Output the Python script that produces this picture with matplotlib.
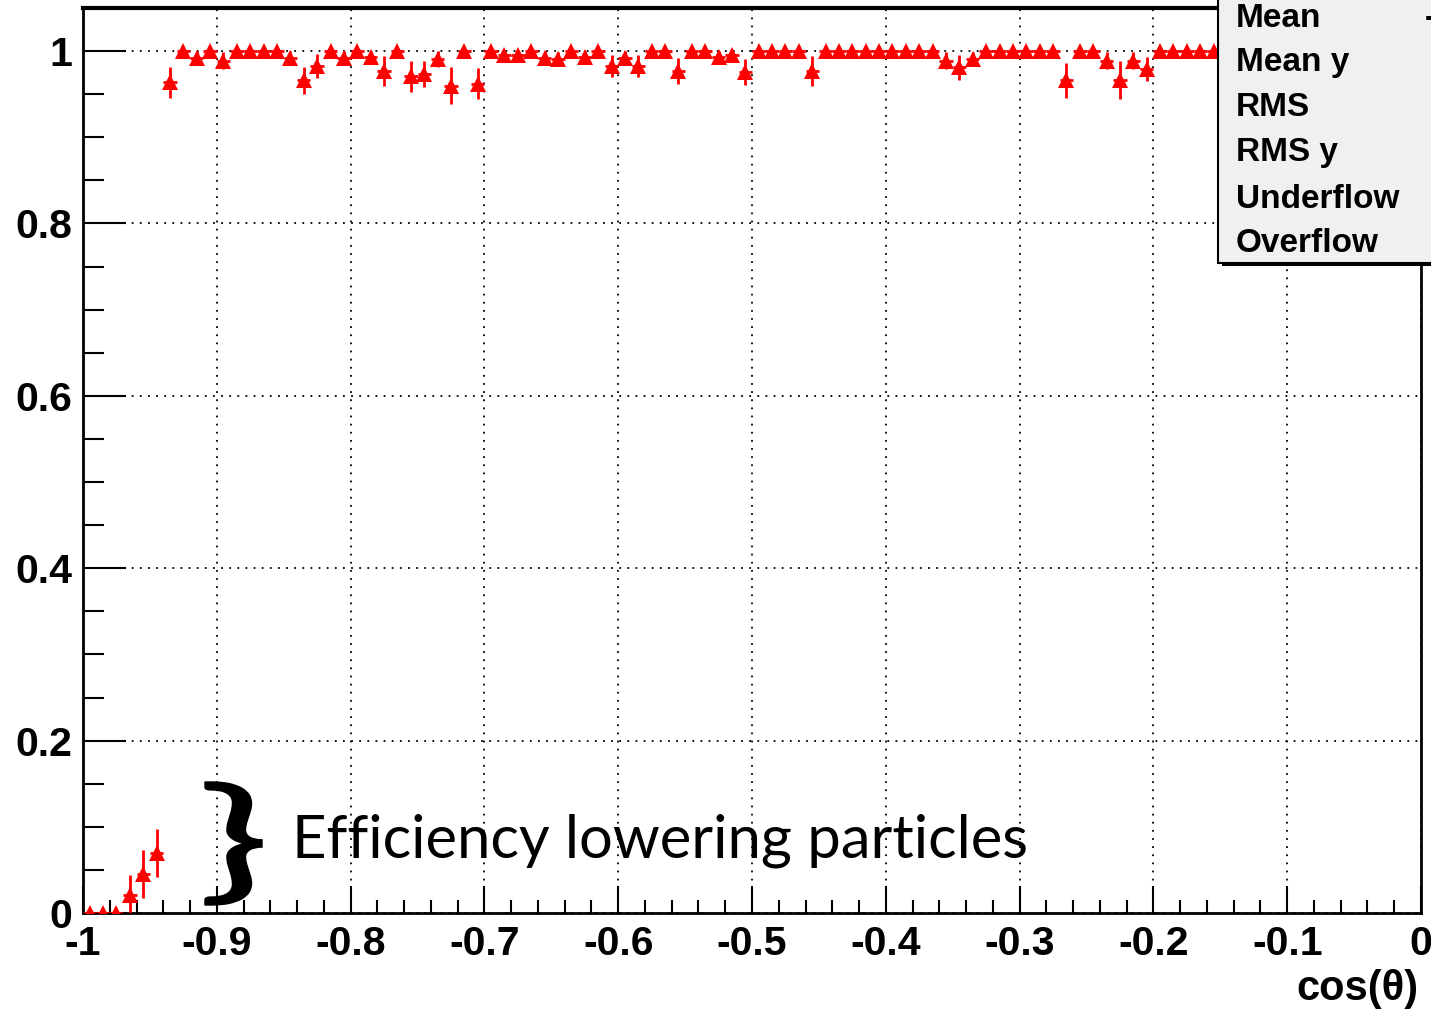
import numpy as np
import matplotlib
matplotlib.use('Agg')
import matplotlib.pyplot as plt
from matplotlib.patches import Rectangle, PathPatch
from matplotlib.textpath import TextPath
from matplotlib.font_manager import FontProperties
from matplotlib.path import Path
from matplotlib.ticker import MultipleLocator, FuncFormatter

# histogram binning in cos(theta)
n_bins = 100
x_lo, x_hi = -1.0, 0.0

# efficiency per bin (bins right of ~-0.15 sit under the stats box)
eff = [0.0, 0.0, 0.0, 0.021, 0.045, 0.070, 0.964, 1.0, 0.992, 1.0,
       0.989, 1.0, 1.0, 1.0, 1.0, 0.992, 0.966, 0.983, 1.0, 0.992,
       1.0, 0.993, 0.977, 1.0, 0.971, 0.973, 0.991, 0.960, 1.0, 0.962,
       1.0, 0.995, 0.995, 1.0, 0.992, 0.991, 1.0, 0.993, 1.0, 0.983,
       0.992, 0.983, 1.0, 1.0, 0.977, 1.0, 1.0, 0.993, 0.995, 0.976,
       1.0, 1.0, 1.0, 1.0, 0.977, 1.0, 1.0, 1.0, 1.0, 1.0,
       1.0, 1.0, 1.0, 1.0, 0.989, 0.981, 0.991, 1.0, 1.0, 1.0,
       1.0, 1.0, 1.0, 0.966, 1.0, 1.0, 0.989, 0.967, 0.989, 0.979,
       1.0, 1.0, 1.0, 1.0, 1.0]
eff_err = [0.0, 0.0, 0.0, 0.023, 0.028, 0.028, 0.018, 0.0, 0.008, 0.0,
           0.010, 0.0, 0.0, 0.0, 0.0, 0.008, 0.016, 0.014, 0.0, 0.008,
           0.0, 0.007, 0.017, 0.0, 0.018, 0.015, 0.009, 0.021, 0.0, 0.018,
           0.0, 0.005, 0.005, 0.0, 0.008, 0.008, 0.0, 0.007, 0.0, 0.013,
           0.008, 0.013, 0.0, 0.0, 0.015, 0.0, 0.0, 0.007, 0.005, 0.015,
           0.0, 0.0, 0.0, 0.0, 0.017, 0.0, 0.0, 0.0, 0.0, 0.0,
           0.0, 0.0, 0.0, 0.0, 0.010, 0.014, 0.008, 0.0, 0.0, 0.0,
           0.0, 0.0, 0.0, 0.020, 0.0, 0.0, 0.010, 0.022, 0.010, 0.014,
           0.0, 0.0, 0.0, 0.0, 0.0]

stats_labels = ['Mean', 'Mean y', 'RMS', 'RMS y', 'Underflow', 'Overflow']
note_text = 'Efficiency lowering particles'
x_title = 'cos(\u03b8)'

bin_w = (x_hi - x_lo) / n_bins
centers = x_lo + (np.arange(len(eff)) + 0.5) * bin_w

plt.rcParams['font.family'] = ['Liberation Sans', 'DejaVu Sans']

W, H = 1431, 1010
fig = plt.figure(figsize=(W / 100, H / 100), dpi=100)
ax = fig.add_axes([83 / W, 1 - 913 / H, (1421 - 83) / W, (913 - 8) / H])

ax.errorbar(centers, eff, yerr=eff_err, xerr=bin_w / 2, fmt='^', color='red',
            ms=11.5, mew=0, elinewidth=2, capsize=0, zorder=3)

ax.set_xlim(x_lo, x_hi)
ax.set_ylim(0, 1.05)
ax.xaxis.set_major_locator(MultipleLocator(0.1))
ax.xaxis.set_minor_locator(MultipleLocator(0.02))
ax.yaxis.set_major_locator(MultipleLocator(0.2))
ax.yaxis.set_minor_locator(MultipleLocator(0.05))
fmt = FuncFormatter(lambda v, p: '%g' % round(v, 3))
ax.xaxis.set_major_formatter(fmt)
ax.yaxis.set_major_formatter(fmt)
ax.grid(True, which='major', color='black', linestyle=(0, (1, 3.5)), linewidth=1.3)
ax.set_axisbelow(True)

ax.tick_params(axis='both', which='both', direction='in', width=1.5, color='black',
               labelsize=29.5)
ax.tick_params(axis='x', which='major', length=19.5, pad=8.5)
ax.tick_params(axis='x', which='minor', length=9.7)
ax.tick_params(axis='y', which='major', length=31, pad=8)
ax.tick_params(axis='y', which='minor', length=15)
for lab in ax.get_xticklabels() + ax.get_yticklabels():
    lab.set_fontweight('bold')
for sp in ax.spines.values():
    sp.set_linewidth(2)
ax.spines['top'].set_linewidth(3)

fig.text(1419 / W, 1 - 1000 / H, x_title, ha='right', va='baseline',
         fontsize=30, fontweight='bold')

# stats box (cut off by the picture edge), with its shadow
fig.add_artist(Rectangle((1222 / W, 1 - 266 / H), 0.3, 0.4, transform=fig.transFigure,
                         facecolor='black', edgecolor='none', zorder=5))
fig.add_artist(Rectangle((1218 / W, 1 - 263 / H), 0.3, 0.4, transform=fig.transFigure,
                         facecolor='#f0f0f0', edgecolor='black', lw=1.5, zorder=6))
baselines = [27, 71, 116, 161, 208, 252]
for lab, yb in zip(stats_labels, baselines):
    fig.text(1236 / W, 1 - yb / H, lab, ha='left', va='baseline', fontsize=24,
             fontweight='bold', zorder=7)
fig.text(1425 / W, 1 - 27 / H, '-', ha='left', va='baseline', fontsize=24,
         fontweight='bold', zorder=7)

# curly brace drawn from a glyph outline, stretched to its box
tp = TextPath((0, 0), '}', size=100, prop=FontProperties(family='Lato'))
ext = tp.get_extents()
bx0, bx1 = 205 / W, 262 / W
by0, by1 = 1 - 905 / H, 1 - 782 / H
v = tp.vertices.copy()
v[:, 0] = (v[:, 0] - ext.x0) / ext.width * (bx1 - bx0) + bx0
v[:, 1] = (v[:, 1] - ext.y0) / ext.height * (by1 - by0) + by0
fig.add_artist(PathPatch(Path(v, tp.codes), transform=fig.transFigure,
                         facecolor='black', edgecolor='black', lw=1.0, zorder=6))

note = fig.text(292 / W, 1 - 858 / H, note_text, ha='left', va='baseline',
                fontsize=46, family='Lato', zorder=6)
fig.canvas.draw()
bb = note.get_window_extent()
note.set_fontsize(46 * 736 / bb.width)

fig.savefig('out.png', dpi=100)
